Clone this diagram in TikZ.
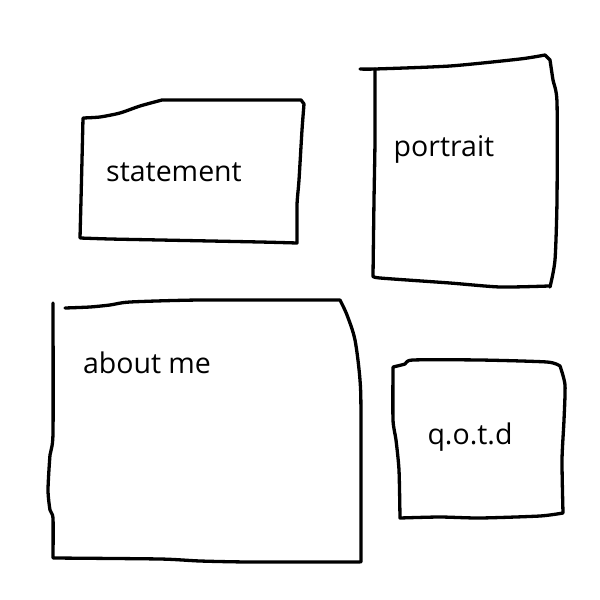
\documentclass[tikz,border=0pt]{standalone}
\usepackage{fontspec}
\setmainfont{Open Sans}
\begin{document}
\begin{tikzpicture}[x=1pt,y=-1pt,
  sketch/.style={line width=3.3pt, line join=round, line cap=round},
  lbl/.style={font=\fontsize{28.5}{32}\selectfont, inner sep=0pt}]
\useasboundingbox[fill=white] (0,0) rectangle (600,600);
% statement
\draw[sketch] plot[smooth, tension=0.4] coordinates {(83,118) (100,117) (120,113) (140,106) (162,100)}
  -- (301,100) -- (304,104) -- plot[smooth, tension=0.4] coordinates {(304,104) (302,130) (299,180) (297,205) (297,243)}
  -- plot[smooth, tension=0.4] coordinates {(297,243) (260,242) (160,240) (110,239) (80,238)}
  -- plot[smooth, tension=0.4] coordinates {(80,238) (81,200) (82,160) (83,118)};
\node[lbl] (statement) at (174,172) {statement};
% portrait
\draw[sketch] plot[smooth, tension=0.4] coordinates {(360,69) (375,69) (450,66) (520,59) (545,55)}
  -- (550,60) -- plot[smooth, tension=0.4] coordinates {(550,60) (553,80) (557,102) (557,200) (555,260) (550,287)};
\draw[sketch] plot[smooth, tension=0.4] coordinates {(549,286) (500,287) (450,283) (380,278) (373,276)}
  -- plot[smooth, tension=0.4] coordinates {(373,276) (374,200) (375,140) (375,69)};
\node[lbl] (portrait) at (444,149) {portrait};
% about me
\draw[sketch] plot[smooth, tension=0.4] coordinates {(53,303) (53,433) (50,455) (48,490) (50,510) (53,518) (53,558)}
  -- plot[smooth, tension=0.4] coordinates {(53,558) (160,559) (200,561) (250,562) (360,562)};
\draw[sketch] plot[smooth, tension=0.4] coordinates {(65,308) (90,307) (110,305) (130,302) (200,300) (340,300)}
  -- plot[smooth, tension=0.5] coordinates {(340,300) (347,315) (355,340) (360,380) (361,420) (361,562)};
\node[lbl] (aboutme) at (147,363) {about me};
% q.o.t.d
\draw[sketch] plot[smooth, tension=0.4] coordinates {(393,367) (405,364) (413,360) (480,360) (547,362) (560,366)}
  -- plot[smooth, tension=0.4] coordinates {(560,366) (565,385) (564,420) (562,460) (563,513)}
  -- plot[smooth, tension=0.4] coordinates {(563,513) (540,516) (480,518) (440,517) (400,518)}
  -- plot[smooth, tension=0.4] coordinates {(400,518) (399,470) (396,440) (393,420) (393,367)};
\node[lbl] (qotd) at (470,437) {q.o.t.d};
\end{tikzpicture}
\end{document}
